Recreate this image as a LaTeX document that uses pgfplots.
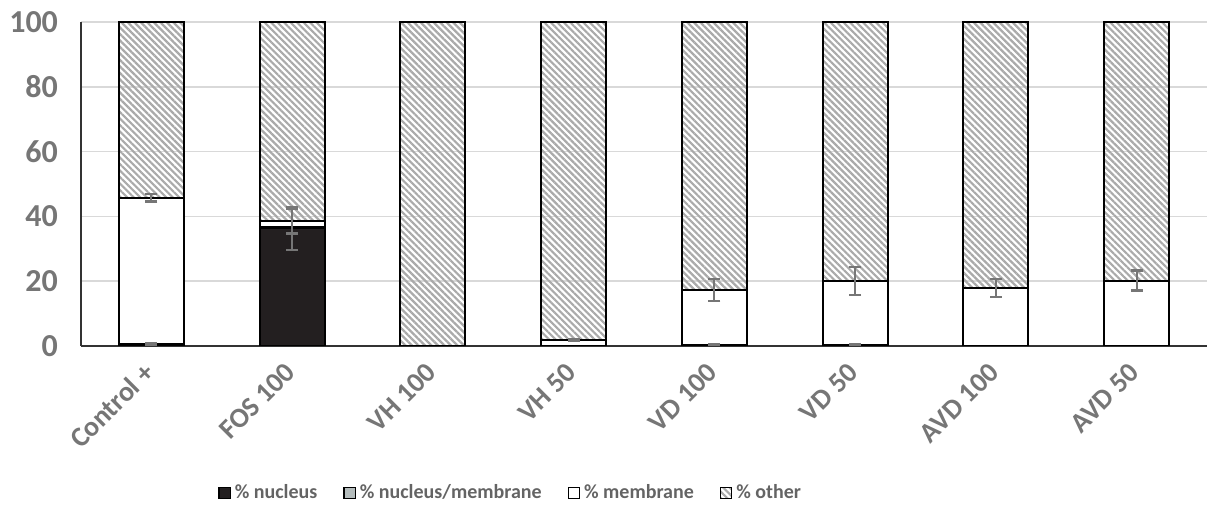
\documentclass[border=0pt]{standalone}
\usepackage{pgfplots}
\pgfplotsset{compat=1.18}
\usepackage{fontspec}
\setmainfont{Carlito}
\usetikzlibrary{patterns.meta}
\definecolor{txt}{RGB}{118,118,118}
\definecolor{nucl}{RGB}{35,31,32}
\definecolor{nucmem}{RGB}{180,188,188}
\definecolor{hatch}{RGB}{170,170,170}
\definecolor{errc}{RGB}{118,118,118}
\definecolor{gridc}{RGB}{217,217,217}
\begin{document}
\begin{tikzpicture}
\useasboundingbox (0,0) rectangle (611.5pt,259.5pt);
\begin{axis}[
  at={(40.5pt,86.5pt)}, anchor=south west,
  width=563pt, height=162pt, scale only axis,
  ybar stacked, bar width=32.5pt,
  xmin=-0.5, xmax=7.5, ymin=0, ymax=100,
  xtick={0,...,7},
  xticklabels={Control +, FOS 100, VH 100, VH 50, VD 100, VD 50, AVD 100, AVD 50},
  x tick label style={rotate=45, anchor=east, xshift=-5pt, yshift=-7pt, font=\fontsize{14}{16}\selectfont\bfseries, text=txt},
  ytick={0,20,...,100},
  y tick label style={font=\fontsize{16}{18}\selectfont\bfseries, text=txt, xshift=-8pt},
  /pgf/number format/assume math mode=true,
  major tick length=0pt,
  axis x line*=bottom, axis y line*=left,
  axis line style={line width=0.8pt, draw=black!80, -},
  ymajorgrids, grid style={gridc, line width=0.8pt},
  legend columns=4,
  legend style={at={(0.1163,-0.4537)}, anchor=west, draw=none, fill=none,
    font=\fontsize{10}{12}\selectfont\bfseries, text=txt!85!black,
    /tikz/every even column/.append style={column sep=11pt}},
  legend image code/.code={\draw[#1, line width=0.6pt] (0pt,-2.8pt) rectangle (5.6pt,2.8pt);},
]
\addplot[fill=nucl, draw=black, line width=1pt] coordinates {(0,0.5) (1,36.3) (2,0) (3,0) (4,0.3) (5,0.3) (6,0) (7,0)};
\addlegendentry{\% nucleus}
\addplot[fill=nucmem, draw=black, line width=1pt] coordinates {(0,0) (1,0.5) (2,0) (3,0) (4,0) (5,0) (6,0) (7,0)};
\addlegendentry{\% nucleus/membrane}
\addplot[fill=white, draw=black, line width=1pt] coordinates {(0,45.3) (1,1.7) (2,0) (3,1.85) (4,16.9) (5,19.7) (6,18.0) (7,20.2)};
\addlegendentry{\% membrane}
\addplot[pattern={Lines[angle=-45,distance=2.3pt,line width=1.1pt]}, pattern color=hatch, draw=black, line width=1pt] coordinates {(0,54.2) (1,61.5) (2,100) (3,98.15) (4,82.8) (5,80.0) (6,82.0) (7,79.8)};
\addlegendentry{\% other}
\end{axis}
\begin{axis}[
  at={(40.5pt,86.5pt)}, anchor=south west,
  width=563pt, height=162pt, scale only axis,
  xmin=-0.5, xmax=7.5, ymin=0, ymax=100,
  hide axis,
]
\addplot[draw=none, mark=none,
  error bars/.cd, y dir=both, y explicit,
  error bar style={draw=errc, line width=1.1pt},
  error mark options={draw=errc, rotate=90, mark size=3pt, line width=1.1pt}]
  coordinates {
  (0,0.5) +- (0,0.3)
  (0,45.8) +- (0,1.2)
  (1,36.3) +- (0,6.7)
  (1,38.5) +- (0,3.8)
  (3,1.85) +- (0,0.3)
  (4,0.3) +- (0,0.2)
  (4,17.2) +- (0,3.4)
  (5,0.3) +- (0,0.2)
  (5,20.0) +- (0,4.3)
  (6,18.0) +- (0,2.8)
  (7,20.2) +- (0,3.1)
  };
\end{axis}
\end{tikzpicture}
\end{document}
